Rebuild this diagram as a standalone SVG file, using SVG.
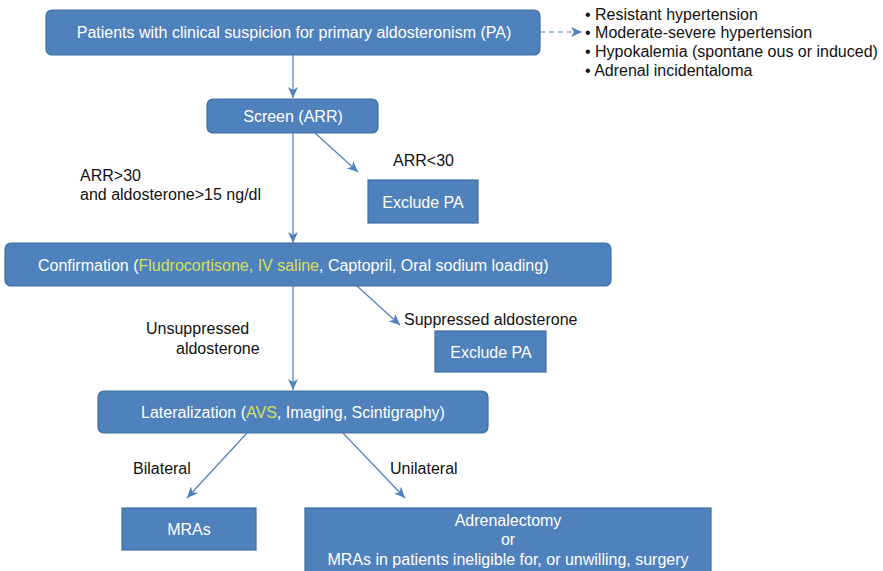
<svg xmlns="http://www.w3.org/2000/svg" width="883" height="571" viewBox="0 0 883 571">
<defs>
<marker id="ah" markerWidth="12" markerHeight="10" refX="11" refY="5" orient="auto" markerUnits="userSpaceOnUse">
<path d="M0,0 L11,5 L0,10 L3,5 Z" fill="#4F81BD"/>
</marker>
</defs>
<style>
.box{fill:#4F81BD;stroke:#3F6E9E;stroke-width:1.2}
.bt{font-family:"Liberation Sans",Arial,sans-serif;font-size:16px;fill:#FFFFFF}
.t{font-family:"Liberation Sans",Arial,sans-serif;font-size:16px;fill:#111111}
.y{fill:#D8E05A}
.c{fill:none;stroke:#4F81BD;stroke-width:1.2}
</style>
<rect width="883" height="571" fill="#FFFFFF"/>
<g id="connectors">
<line class="c" x1="293" y1="55" x2="293" y2="98" marker-end="url(#ah)"/>
<line class="c" x1="540" y1="32" x2="582" y2="32" stroke-dasharray="5,4" marker-end="url(#ah)"/>
<line class="c" x1="293" y1="133" x2="293" y2="243" marker-end="url(#ah)"/>
<line class="c" x1="315" y1="133" x2="358" y2="172" marker-end="url(#ah)"/>
<line class="c" x1="293" y1="286" x2="293" y2="390" marker-end="url(#ah)"/>
<line class="c" x1="357" y1="286" x2="400" y2="325" marker-end="url(#ah)"/>
<line class="c" x1="247" y1="433" x2="187" y2="498" marker-end="url(#ah)"/>
<line class="c" x1="343" y1="433" x2="405" y2="498" marker-end="url(#ah)"/>
</g>
<g id="n-patients">
<rect class="box" x="46" y="10" width="494" height="45" rx="6"/>
<text class="bt" x="294" y="38" text-anchor="middle">Patients with clinical suspicion for primary aldosteronism (PA)</text>
</g>
<g id="n-criteria">
<text class="t" x="585" y="20">• Resistant hypertension</text>
<text class="t" x="585" y="38">• Moderate-severe hypertension</text>
<text class="t" x="585" y="57">• Hypokalemia (spontane ous or induced)</text>
<text class="t" x="585" y="76">• Adrenal incidentaloma</text>
</g>
<g id="n-screen">
<rect class="box" x="207" y="99" width="171" height="34" rx="6"/>
<text class="bt" x="293" y="122" text-anchor="middle">Screen (ARR)</text>
</g>
<g id="l-arr-high">
<text class="t" x="80" y="181">ARR&gt;30</text>
<text class="t" x="80" y="200">and aldosterone&gt;15 ng/dl</text>
</g>
<g id="l-arr-low">
<text class="t" x="393" y="166">ARR&lt;30</text>
</g>
<g id="n-exclude1">
<rect class="box" x="368" y="180" width="110" height="43"/>
<text class="bt" x="423" y="208" text-anchor="middle">Exclude PA</text>
</g>
<g id="n-confirmation">
<rect class="box" x="5" y="243" width="606" height="43" rx="6"/>
<text class="bt" x="38" y="271">Confirmation (<tspan class="y">Fludrocortisone, IV saline</tspan>, Captopril, Oral sodium loading)</text>
</g>
<g id="l-unsuppressed">
<text class="t" x="146" y="334">Unsuppressed</text>
<text class="t" x="176" y="354">aldosterone</text>
</g>
<g id="l-suppressed">
<text class="t" x="404" y="325">Suppressed aldosterone</text>
</g>
<g id="n-exclude2">
<rect class="box" x="435" y="331" width="111" height="41"/>
<text class="bt" x="491" y="358" text-anchor="middle">Exclude PA</text>
</g>
<g id="n-lateralization">
<rect class="box" x="98" y="391" width="390" height="42" rx="6"/>
<text class="bt" x="293" y="418" text-anchor="middle">Lateralization (<tspan class="y">AVS</tspan>, Imaging, Scintigraphy)</text>
</g>
<g id="l-bilateral">
<text class="t" x="133" y="474">Bilateral</text>
</g>
<g id="l-unilateral">
<text class="t" x="390" y="474">Unilateral</text>
</g>
<g id="n-mras">
<rect class="box" x="122" y="508" width="134" height="42"/>
<text class="bt" x="189" y="535" text-anchor="middle">MRAs</text>
</g>
<g id="n-adrenalectomy">
<rect class="box" x="305" y="508" width="406" height="70"/>
<text class="bt" x="508" y="526" text-anchor="middle">Adrenalectomy</text>
<text class="bt" x="508" y="545" text-anchor="middle">or</text>
<text class="bt" x="508" y="565" text-anchor="middle">MRAs in patients ineligible for, or unwilling, surgery</text>
</g>
</svg>
